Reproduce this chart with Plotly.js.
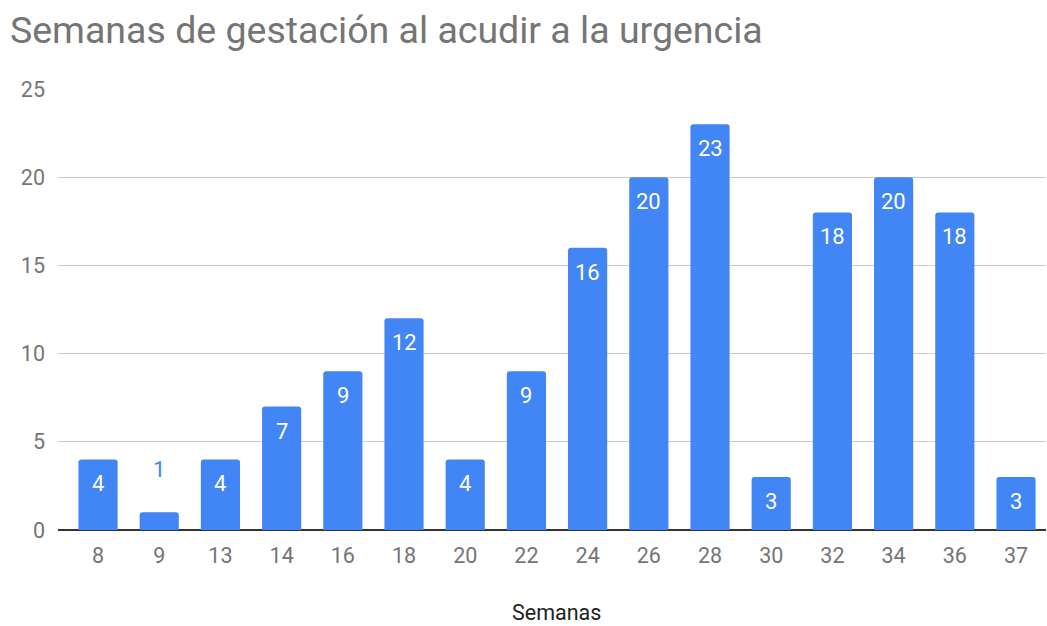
<!DOCTYPE html>
<html>
<head>
<meta charset="utf-8">
<script src="https://cdn.plot.ly/plotly-3.0.1.min.js"></script>
<style>html,body{margin:0;padding:0;background:#fff;}#chart{width:1047px;height:626px;}</style>
</head>
<body>
<div id="chart"></div>
<script>
const semanas = ["8","9","13","14","16","18","20","22","24","26","28","30","32","34","36","37"];
const valores = [4,1,4,7,9,12,4,9,16,20,23,3,18,20,18,3];
const yTicks = [0,5,10,15,20,25];
const xTitle = "Semanas";

const blue = "#4285f4";
const font = "Roboto, Arial, sans-serif";

const annotations = semanas.map((s, i) => {
  const inside = valores[i] >= 2;
  return {
    x: i, y: valores[i], xref: "x", yref: "y",
    text: String(valores[i]), showarrow: false,
    yanchor: inside ? "top" : "bottom",
    yshift: inside ? -10 : 28,
    font: {family: font, size: 22, color: inside ? "#ffffff" : blue}
  };
});
annotations.push({
  text: xTitle, xref: "paper", yref: "paper", x: 0.5045, y: -0.188,
  xanchor: "center", yanchor: "middle", showarrow: false, borderpad: 0,
  font: {family: font, size: 21.5, color: "#222"}
});

const trace = {
  type: "bar", x: semanas, y: valores,
  marker: {color: blue, cornerradius: 3},
  width: 0.64, hoverinfo: "x+y"
};

const layout = {
  width: 1047, height: 626,
  margin: {l: 58, r: 1, t: 89, b: 96},
  paper_bgcolor: "#fff", plot_bgcolor: "#fff",
  font: {family: font},
  title: {text: "Semanas de gestación al acudir a la urgencia", x: 0.0095, xanchor: "left", xref: "container", y: 0.952, yanchor: "middle", yref: "container",
    font: {family: font, size: 37.5, color: "#757575"}},
  showlegend: false,
  xaxis: {type: "category", range: [-0.654, 15.49], autorange: false, showgrid: false, showline: false, zeroline: false,
    ticks: "", tickfont: {family: font, size: 21.5, color: "#757575"}, ticklabelstandoff: 10},
  yaxis: {range: [0, 25], autorange: false, tickvals: yTicks, ticktext: yTicks.map(String),
    showgrid: true, gridcolor: "#cccccc", gridwidth: 1, zeroline: true, zerolinecolor: "#333333", zerolinewidth: 2,
    showline: false, ticks: "", tickfont: {family: font, size: 21.5, color: "#757575"}, ticklabelstandoff: 12},
  annotations: annotations
};

Plotly.newPlot("chart", [trace], layout, {displayModeBar: false, staticPlot: true});
</script>
</body>
</html>
